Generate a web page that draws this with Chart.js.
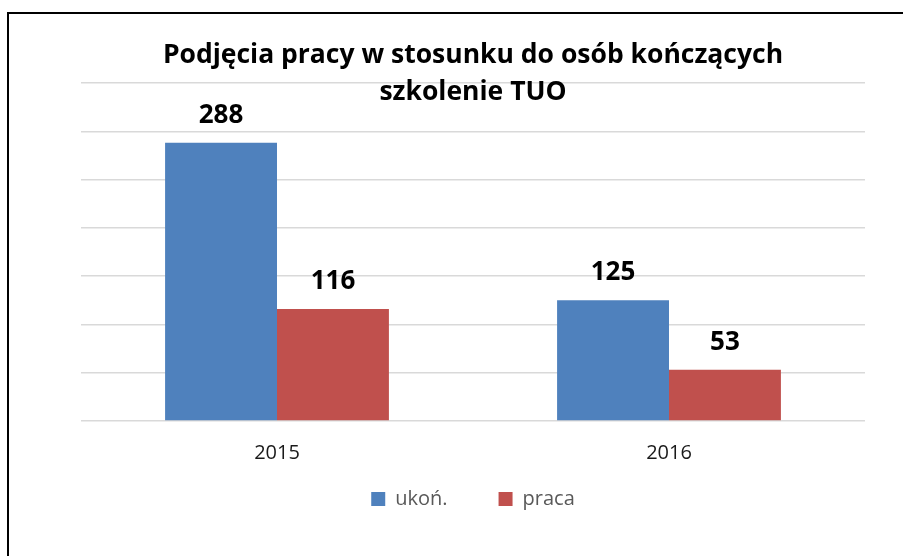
<!DOCTYPE html>
<html>
<head>
<meta charset="utf-8">
<script src="https://cdn.jsdelivr.net/npm/chart.js@4.4.0/dist/chart.umd.min.js"></script>
<style>
  html, body { margin: 0; padding: 0; background: #fff; }
  #wrap { position: relative; width: 903px; height: 556px; overflow: hidden; }
  #frame { position: absolute; left: 7px; top: 12px; width: 920px; height: 600px; border: 2px solid #000; pointer-events: none; }
</style>
</head>
<body>
<div id="wrap">
  <canvas id="myChart" width="903" height="556"></canvas>
  <div id="frame"></div>
</div>
<script>
const categories = ['2015', '2016'];
const ukonValues = [288, 125];
const pracaValues = [116, 53];
const seriesNames = ['ukoń.', 'praca'];
const titleLines = ['Podjęcia pracy w stosunku do osób kończących', 'szkolenie TUO'];

// value labels above each bar
const barLabels = {
  id: 'barLabels',
  afterDatasetsDraw(chart) {
    const ctx = chart.ctx;
    ctx.save();
    ctx.font = 'bold 26px "Open Sans"';
    ctx.fillStyle = '#000';
    ctx.textAlign = 'center';
    ctx.textBaseline = 'middle';
    chart.data.datasets.forEach((ds, i) => {
      chart.getDatasetMeta(i).data.forEach((bar, j) => {
        ctx.fillText(String(ds.data[j]), bar.x, bar.y - 27.5);
      });
    });
    ctx.restore();
  }
};

const canvas = document.getElementById('myChart');
new Chart(canvas, {
  type: 'bar',
  data: {
    labels: categories,
    datasets: [{
      label: seriesNames[0],
      data: ukonValues,
      backgroundColor: '#4F81BD'
    }, {
      label: seriesNames[1],
      data: pracaValues,
      backgroundColor: '#C0504D'
    }]
  },
  options: {
    responsive: false,
    animation: false,
    layout: { padding: { left: 81, right: 38, top: 0, bottom: 37 } },
    categoryPercentage: 0.571,
    barPercentage: 1,
    plugins: {
      title: {
        display: true,
        text: titleLines,
        color: '#000',
        font: { family: 'Open Sans', weight: 'bold', size: 26.5, lineHeight: '37px' },
        padding: { top: 37, bottom: -28 }
      },
      legend: {
        position: 'bottom',
        labels: {
          boxWidth: 14,
          boxHeight: 14,
          padding: 51,
          color: '#595959',
          font: { family: 'Open Sans', size: 20 }
        }
      },
      tooltip: { enabled: false }
    },
    scales: {
      x: {
        grid: { display: false, drawTicks: false },
        border: { display: false },
        ticks: { color: '#1a1a1a', mirror: true, padding: -44, z: 1, font: { family: 'Open Sans', size: 20 } },
        afterFit: (scale) => { scale.height = 17; }
      },
      y: {
        min: 0,
        max: 350,
        grid: { color: '#D9D9D9', lineWidth: 1.5, drawTicks: false, z: -1 },
        border: { display: false },
        ticks: { display: false, stepSize: 50 }
      }
    }
  },
  plugins: [barLabels]
});
</script>
</body>
</html>
